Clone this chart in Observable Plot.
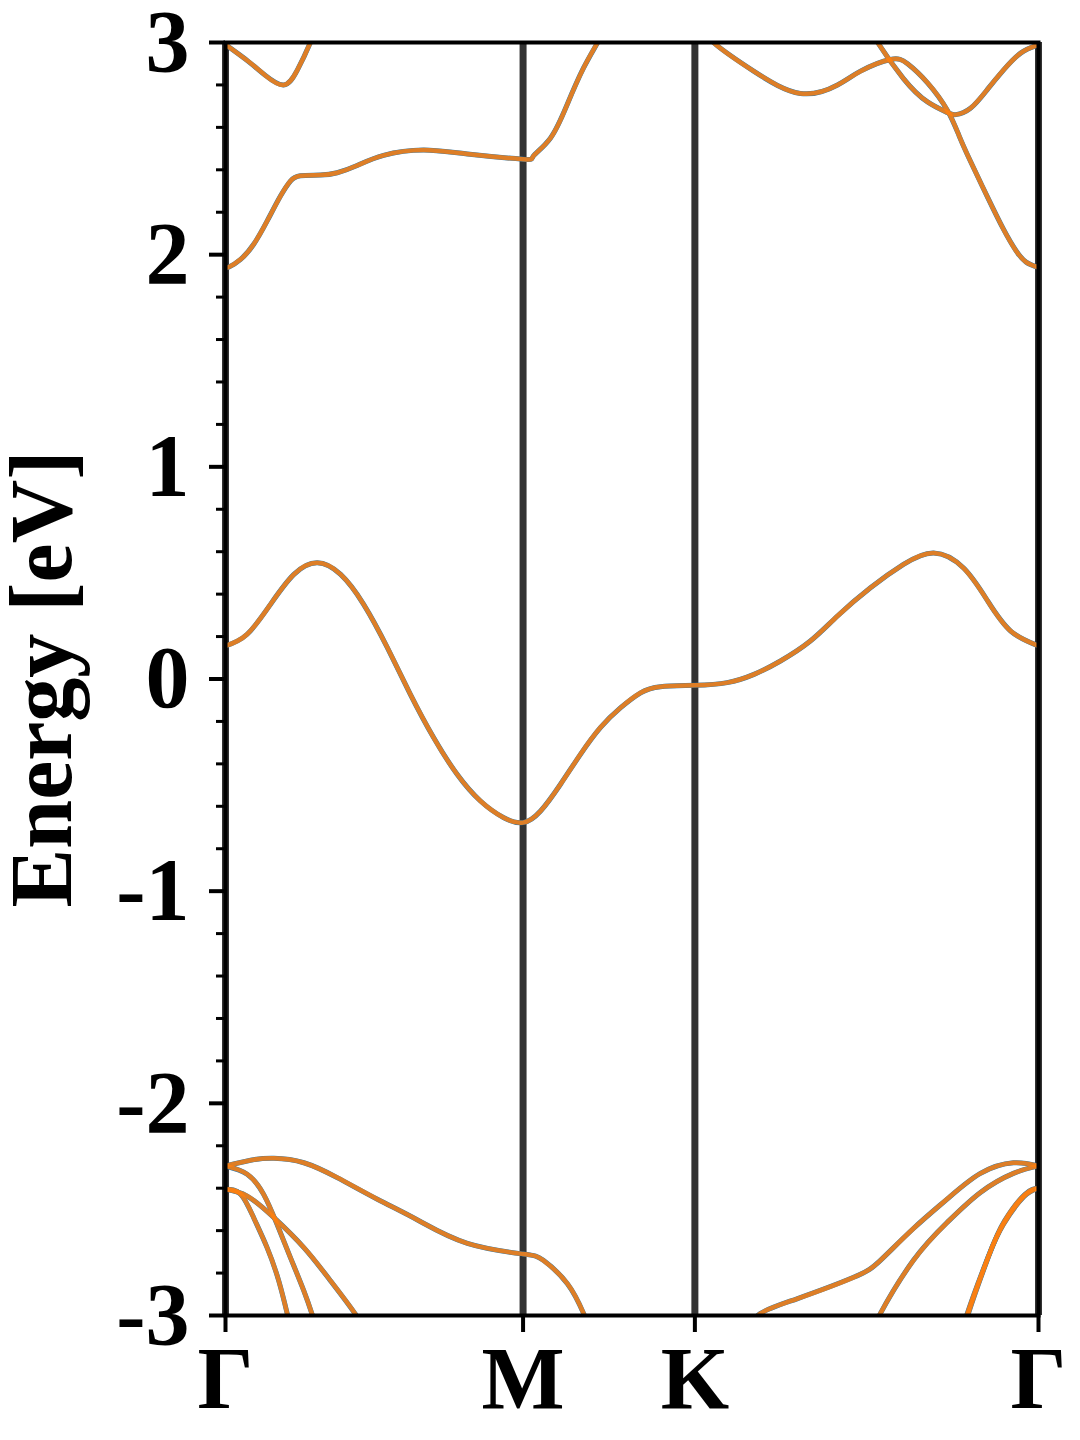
<!DOCTYPE html>
<html>
<head>
<meta charset="utf-8">
<script src="https://cdn.jsdelivr.net/npm/d3@7"></script>
<script src="https://cdn.jsdelivr.net/npm/@observablehq/plot@0.6"></script>
<style>
  html, body { margin: 0; padding: 0; background: #fff; }
  #chart { width: 1080px; height: 1440px; }
</style>
</head>
<body>
<div id="chart"></div>
<script>
// High-symmetry points (path distance) and labels
const kPoints = [0, 0.866, 1.366, 2.366];
const kLabels = ["Γ", "M", "K", "Γ"];
const yMajor = [-3, -2, -1, 0, 1, 2, 3];
const yMinor = [-2.8, -2.6, -2.4, -2.2, -1.8, -1.6, -1.4, -1.2, -0.8, -0.6, -0.4, -0.2,
                0.2, 0.4, 0.6, 0.8, 1.2, 1.4, 1.6, 1.8, 2.2, 2.4, 2.6, 2.8];

// Bands: [k, Energy (eV)]
const cb1 = [[0,1.94],[0.01,1.942],[0.044,1.978],[0.082,2.049],[0.121,2.158],[0.160,2.276],[0.189,2.347],[0.218,2.372],[0.276,2.375],[0.325,2.386],[0.383,2.42],[0.460,2.468],[0.576,2.493],[0.704,2.474],[0.866,2.45],[0.896,2.465],[0.946,2.55],[0.995,2.71],[1.042,2.88],[1.083,3.0],[1.10,3.06]];
const cb2 = [[0,2.99],[0.067,2.91],[0.116,2.845],[0.169,2.80],[0.209,2.87],[0.247,3.0],[0.26,3.06]];
const cb2b = [[0,2.99],[0.03,3.06]];
const cb3 = [[1.40,3.06],[1.420,3.0],[1.537,2.865],[1.673,2.76],[1.781,2.80],[1.848,2.865],[1.935,2.92],[1.985,2.90],[2.043,2.81],[2.101,2.68],[2.135,2.56],[2.168,2.44],[2.218,2.27],[2.264,2.12],[2.30,2.02],[2.33,1.965],[2.366,1.94]];
const cb4 = [[1.88,3.06],[1.898,3.0],[1.973,2.83],[2.043,2.72],[2.101,2.67],[2.125,2.66],[2.168,2.69],[2.218,2.78],[2.264,2.87],[2.314,2.95],[2.366,2.99]];
const vb1 = [[0,0.156],[0.063,0.211],[0.131,0.352],[0.199,0.493],[0.267,0.548],[0.335,0.493],[0.402,0.352],[0.471,0.148],[0.538,-0.072],[0.606,-0.277],[0.674,-0.449],[0.742,-0.575],[0.810,-0.654],[0.866,-0.677],[0.917,-0.622],[0.975,-0.496],[1.033,-0.355],[1.091,-0.229],[1.150,-0.135],[1.208,-0.065],[1.266,-0.036],[1.366,-0.030],[1.460,-0.017],[1.538,0.022],[1.615,0.085],[1.702,0.179],[1.781,0.297],[1.877,0.43],[1.973,0.54],[2.061,0.594],[2.148,0.523],[2.218,0.368],[2.285,0.226],[2.366,0.156]];
const vb2 = [[0,-2.295],[0.073,-2.268],[0.141,-2.259],[0.228,-2.28],[0.325,-2.35],[0.442,-2.452],[0.559,-2.55],[0.704,-2.66],[0.866,-2.71],[0.925,-2.74],[0.995,-2.85],[1.042,-2.99],[1.06,-3.06]];
const vb2r = [[1.53,-3.06],[1.557,-2.99],[1.665,-2.92],[1.828,-2.82],[1.906,-2.74],[2.002,-2.59],[2.101,-2.45],[2.197,-2.33],[2.293,-2.28],[2.366,-2.295]];
const vb3 = [[0,-2.295],[0.063,-2.334],[0.111,-2.429],[0.150,-2.57],[0.189,-2.727],[0.228,-2.884],[0.252,-2.994],[0.265,-3.06]];
const vb3r = [[1.89,-3.06],[1.906,-2.99],[2.002,-2.74],[2.101,-2.56],[2.197,-2.42],[2.293,-2.33],[2.366,-2.295]];
const vb4 = [[0,-2.405],[0.063,-2.437],[0.141,-2.539],[0.228,-2.68],[0.306,-2.837],[0.378,-2.994],[0.395,-3.06]];
const vb5 = [[0,-2.405],[0.044,-2.428],[0.082,-2.539],[0.121,-2.68],[0.155,-2.837],[0.180,-2.994],[0.19,-3.06]];
const vb4r = [[2.15,-3.06],[2.159,-2.99],[2.218,-2.73],[2.264,-2.57],[2.323,-2.44],[2.366,-2.40]];
const vb5r = [[2.153,-3.06],[2.162,-2.99],[2.221,-2.72],[2.267,-2.555],[2.326,-2.43],[2.366,-2.40]];

const bands = {cb1, cb2, cb2b, cb3, cb4, vb1, vb2, vb2r, vb3, vb3r, vb4, vb5, vb4r, vb5r};
const rows = Object.entries(bands).flatMap(([name, pts]) => pts.map(([k, E]) => ({band: name, k, E})));

const FONT = "'Liberation Serif', 'Times New Roman', serif";

const chart = Plot.plot({
  width: 1080,
  height: 1440,
  marginLeft: 225,
  marginRight: 42,
  marginTop: 42,
  marginBottom: 125,
  style: {fontFamily: FONT, fontWeight: "bold", background: "white"},
  x: {domain: [0, 2.366]},
  y: {domain: [-3, 3]},
  marks: [
    Plot.ruleX(kPoints, {stroke: "#333333", strokeWidth: 7}),
    Plot.line(rows, {x: "k", y: "E", z: "band", stroke: "#1f77b4", strokeWidth: 5, curve: "natural", clip: true}),
    Plot.line(rows, {x: "k", y: "E", z: "band", stroke: "#ff7f0e", strokeOpacity: 0.85, strokeWidth: 4.5, curve: "natural", clip: true}),
    Plot.frame({stroke: "black", strokeWidth: 4}),
    Plot.axisY({ticks: yMinor, tickSize: 9, strokeWidth: 3, tickFormat: () => "", label: null}),
    Plot.axisY({ticks: yMajor, tickSize: 16, strokeWidth: 4, tickPadding: 20, tickFormat: d => String(d), fontSize: 88, fontWeight: "bold", fill: "black", label: null}),
    Plot.axisX({ticks: kPoints, tickSize: 17, strokeWidth: 4, tickPadding: 13, tickFormat: (d, i) => kLabels[i], fontSize: 88, fontWeight: "bold", fill: "black", label: null}),
    Plot.text(["Energy [eV]"], {frameAnchor: "left", dx: -183, rotate: -90, fontSize: 88, fontWeight: "bold", fill: "black", textAnchor: "middle", lineAnchor: "middle"})
  ]
});
document.getElementById("chart").appendChild(chart);
</script>
</body>
</html>
